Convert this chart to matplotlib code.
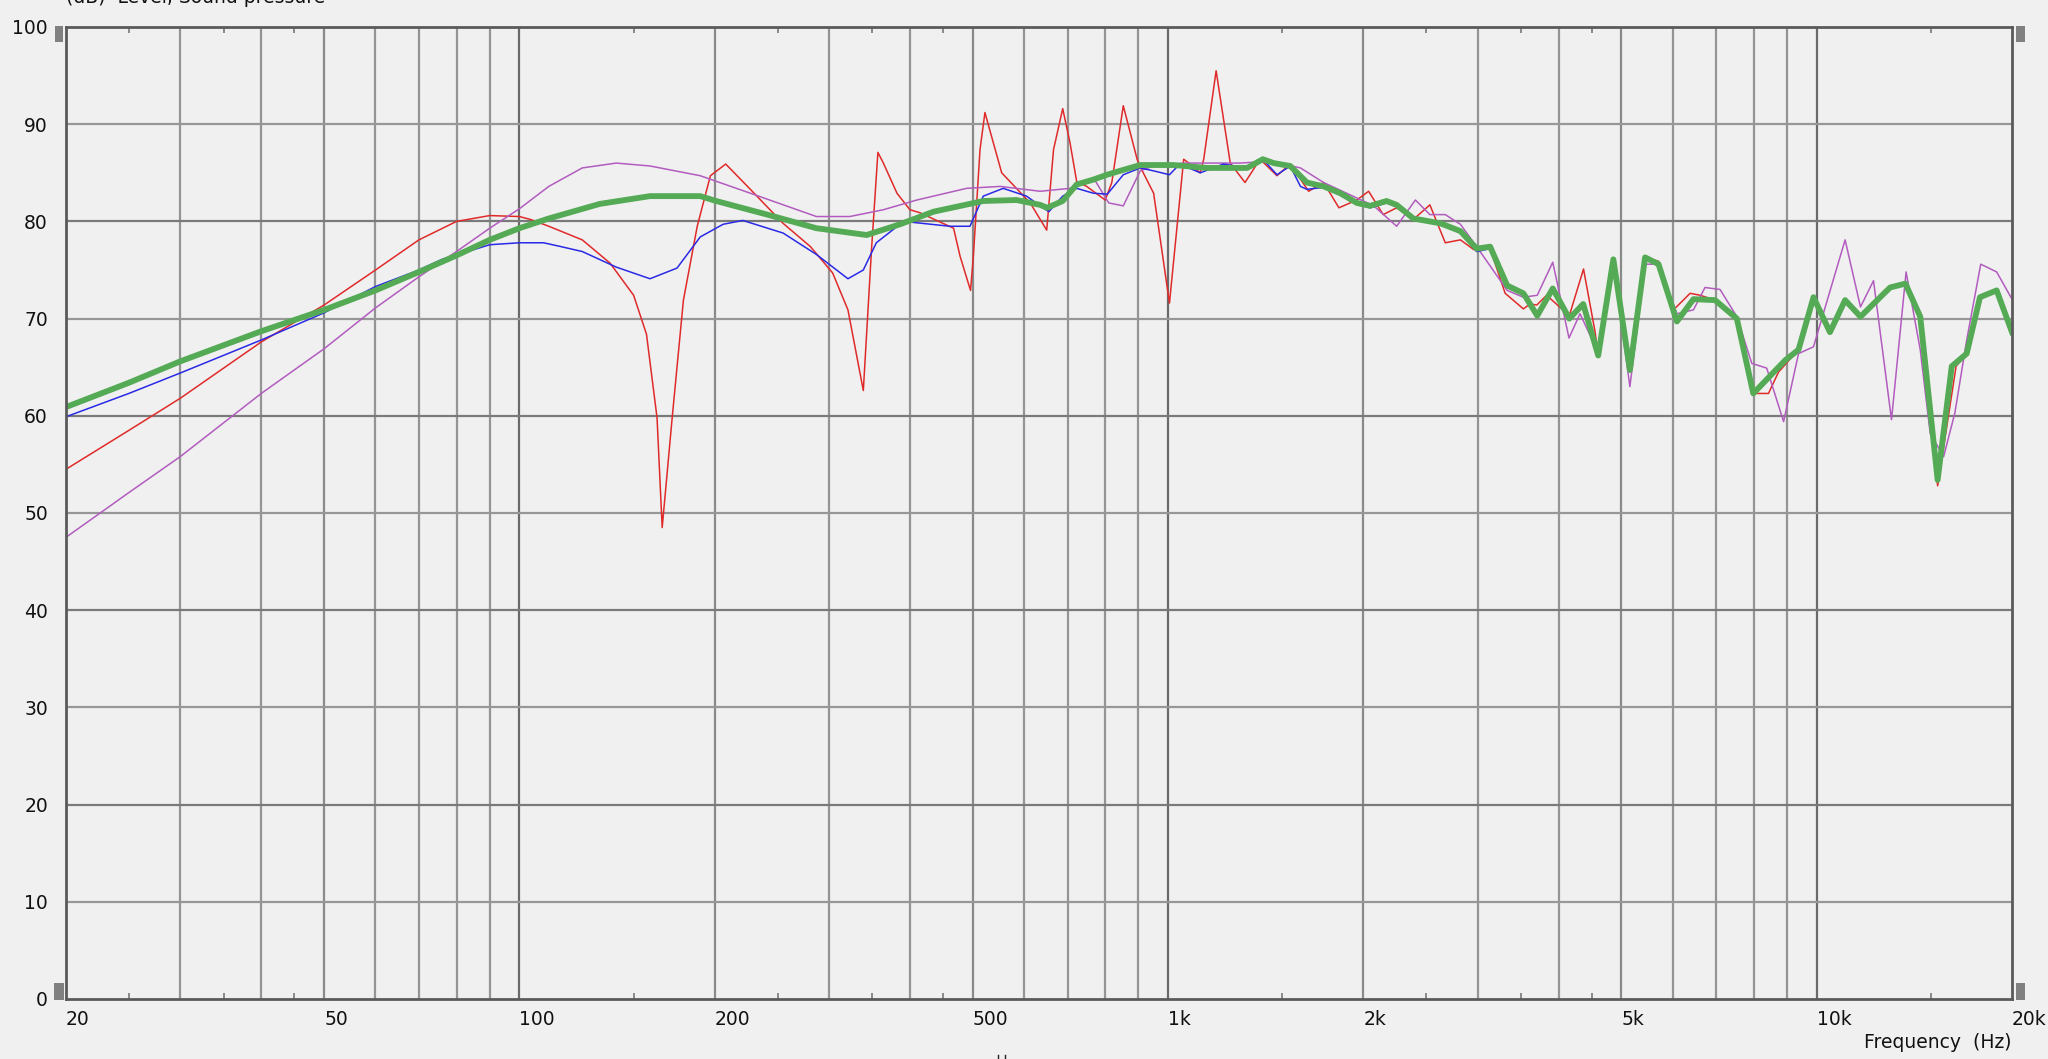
import numpy as np
import matplotlib
matplotlib.use("Agg")
import matplotlib.pyplot as plt
from matplotlib.patches import Rectangle
from matplotlib.lines import Line2D

#%% data (Hz, dB)
f_red = [20, 25, 30, 40, 50, 60, 70, 80, 90, 100, 104, 111, 125, 138, 150, 157, 163, 166, 172, 179,
         188, 197, 208, 227, 255, 281, 304, 321, 339, 349, 357, 364, 382, 400, 414, 467, 478, 496,
         501, 513, 522, 554, 613, 650, 666, 688, 706, 723, 749, 800, 819, 853, 896, 911, 950, 1005,
         1057, 1076, 1121, 1135, 1186, 1247, 1314, 1386, 1472, 1543, 1647, 1737, 1834, 1954, 2038,
         2146, 2251, 2388, 2533, 2675, 2823, 2960, 3137, 3309, 3530, 3614, 3702, 3834, 4155, 4370,
         4554, 4604, 4858, 5152, 5437, 5703, 6014, 6380, 6614, 6971, 7531, 7983, 8426, 8731, 9374,
         9886, 10481, 11060, 11680, 12974, 13700, 14440, 15360, 16400, 17030, 17850, 18940, 20000]
db_red = [54.5, 58.5, 61.8, 67.6, 71.4, 75.0, 78.1, 80.0, 80.6, 80.5, 80.2, 79.5, 78.1, 75.7, 72.4,
          68.4, 59.8, 48.5, 59.8, 71.9, 79.5, 84.7, 85.9, 83.3, 79.8, 77.4, 74.7, 70.9, 62.6, 77.1,
          87.1, 86.0, 82.9, 81.2, 80.9, 79.3, 76.4, 72.9, 76.4, 87.4, 91.2, 85.0, 81.9, 79.1, 87.4,
          91.6, 88.1, 84.1, 83.6, 82.2, 84.0, 91.9, 86.4, 85.3, 82.9, 71.6, 86.4, 86.0, 85.0, 86.4,
          95.5, 86.0, 84.0, 86.4, 84.7, 85.9, 83.1, 84.0, 81.4, 82.2, 83.1, 80.7, 81.4, 80.2, 81.7,
          77.8, 78.1, 77.1, 77.2, 72.6, 71.0, 71.5, 71.4, 72.4, 70.3, 75.1, 68.6, 66.2, 76.1, 64.7,
          76.3, 75.9, 70.9, 72.6, 72.4, 71.9, 70.0, 62.3, 62.3, 64.5, 66.8, 72.2, 68.6, 71.9, 70.2,
          73.2, 73.6, 70.2, 52.8, 65.1, 66.4, 72.2, 72.9, 68.6]

f_blue = [20, 25, 30, 40, 50, 60, 70, 76, 90, 100, 109, 116, 125, 141, 159, 175, 190, 206, 221, 255,
          287, 321, 339, 355, 391, 461, 495, 519, 557, 605, 635, 655, 688, 723, 767, 806, 853, 906,
          950, 1005, 1042, 1121, 1217, 1324, 1400, 1472, 1543, 1600, 1637, 1737, 1843, 1954, 2048,
          2172, 2251, 2388, 2630, 2823, 2991, 3137, 3333, 3530]
db_blue = [59.9, 62.3, 64.4, 67.8, 70.6, 73.3, 75.0, 76.1, 77.6, 77.8, 77.8, 77.4, 76.9, 75.3, 74.1,
           75.2, 78.4, 79.7, 80.1, 78.8, 76.6, 74.1, 75.0, 77.8, 80.0, 79.5, 79.5, 82.6, 83.4, 82.6,
           81.6, 81.0, 82.6, 83.4, 82.9, 82.8, 84.8, 85.5, 85.2, 84.8, 85.9, 85.0, 85.9, 85.5, 86.4,
           84.8, 85.7, 83.6, 83.3, 83.5, 82.7, 81.8, 81.4, 81.9, 81.5, 80.3, 79.8, 78.8, 76.9, 77.2,
           73.2, 72.5]

f_purple = [20, 25, 30, 40, 50, 60, 70, 80, 90, 100, 111, 125, 141, 159, 190, 227, 287, 323, 364,
            410, 489, 551, 635, 706, 767, 810, 853, 906, 950, 1057, 1292, 1437, 1600, 1737, 2075,
            2251, 2406, 2533, 2675, 2823, 2991, 3333, 3530, 3708, 3918, 4150, 4316, 4604, 4858,
            5152, 5437, 5703, 6087, 6456, 6726, 7094, 7531, 7940, 8374, 8890, 9374, 9886, 11060,
            11680, 12233, 13040, 13733, 14440, 14960, 15690, 16330, 17030, 17900, 18940, 20000]
db_purple = [47.5, 52.1, 55.8, 62.3, 66.9, 71.1, 74.3, 76.9, 79.3, 81.3, 83.6, 85.5, 86.0, 85.7,
             84.7, 82.9, 80.5, 80.5, 81.2, 82.2, 83.4, 83.6, 83.1, 83.4, 84.5, 81.9, 81.6, 85.2,
             85.7, 86.0, 86.0, 86.2, 85.5, 84.0, 81.6, 79.5, 82.2, 80.7, 80.7, 79.7, 77.4, 72.9,
             72.2, 72.4, 75.8, 68.0, 70.5, 66.5, 75.6, 63.0, 75.6, 75.6, 70.5, 70.9, 73.2, 73.0,
             70.2, 65.4, 64.9, 59.4, 66.4, 67.1, 78.1, 71.2, 73.9, 59.6, 74.8, 66.8, 58.2, 55.8,
             60.3, 67.8, 75.6, 74.8, 72.0]

f_green = [20, 25, 30, 40, 50, 60, 70, 80, 90, 100, 111, 133, 159, 190, 201, 241, 287, 343, 386,
           435, 519, 584, 635, 651, 688, 723, 767, 805, 853, 906, 1019, 1148, 1324, 1400, 1455,
           1543, 1637, 1737, 1843, 1954, 2048, 2172, 2251, 2388, 2630, 2823, 2991, 3137, 3333,
           3530, 3614, 3708, 3918, 4155, 4365, 4604, 4858, 5152, 5437, 5703, 6087, 6456, 6971,
           7531, 7983, 8937, 9374, 9886, 10481, 11060, 11680, 12974, 13700, 14440, 15360, 16150,
           17030, 17850, 18940, 20000]
db_green = [60.9, 63.4, 65.6, 68.7, 70.9, 72.9, 74.8, 76.5, 78.1, 79.3, 80.3, 81.8, 82.6, 82.6,
            82.1, 80.7, 79.3, 78.6, 79.7, 81.0, 82.1, 82.2, 81.7, 81.4, 82.1, 83.8, 84.3, 84.8,
            85.3, 85.8, 85.8, 85.5, 85.5, 86.4, 86.0, 85.7, 84.0, 83.6, 82.9, 81.9, 81.6, 82.1,
            81.7, 80.3, 79.8, 79.0, 77.2, 77.4, 73.4, 72.6, 71.5, 70.3, 73.1, 70.0, 71.5, 66.2,
            76.1, 64.7, 76.3, 75.6, 69.7, 72.0, 71.9, 70.0, 62.3, 65.7, 66.8, 72.2, 68.6, 71.9,
            70.2, 73.2, 73.6, 70.2, 53.4, 65.1, 66.4, 72.2, 72.9, 68.6]

x_labels = ["20", "50", "100", "200", "500", "1k", "2k", "5k", "10k", "20k"]
x_label_pos = [20, 50, 100, 200, 500, 1000, 2000, 5000, 10000, 20000]
minor_ticks = [25, 35, 45, 150, 250, 350, 450, 1500, 2500, 3500, 4500, 15000]

#%% figure
W, H = 2048, 1059
bg = "#f0f0f0"
fig = plt.figure(figsize=(W / 100, H / 100), dpi=100, facecolor=bg)
ax = fig.add_axes([66 / W, 1 - 999 / H, (2012 - 66) / W, (999 - 27) / H])
ax.set_facecolor(bg)
ax.set_xscale("log")
ax.set_xlim(20, 20000)
ax.set_ylim(0, 100)

# grid lines
for dec in [10, 100, 1000, 10000]:
    for m in range(1, 10):
        f = dec * m
        if f <= 20 or f >= 20000:
            continue
        if m == 1:
            c = "#6a6a6a"
        elif m in (2, 5):
            c = "#8a8a8a"
        else:
            c = "#949494"
        ax.axvline(f, color=c, lw=1.6, zorder=1)
for v in range(10, 100, 10):
    c = "#7a7a7a" if v % 20 == 0 else "#979797"
    ax.axhline(v, color=c, lw=1.6, zorder=1)

# curves
ax.plot(f_red, db_red, color="#e02a2a", lw=1.1, zorder=3)
ax.plot(f_purple, db_purple, color="#b25cbf", lw=1.1, zorder=3)
ax.plot(f_blue, db_blue, color="#2a2ae6", lw=1.1, zorder=4)
ax.plot(f_green, db_green, color="#55aa55", lw=4.2, zorder=5, solid_joinstyle="round")

# ticks
ax.set_xticks(x_label_pos)
ax.set_xticklabels(x_labels)
ax.set_xticks(minor_ticks, minor=True)
ax.set_xticklabels([""] * len(minor_ticks), minor=True)
ax.set_yticks(range(0, 101, 10))
ax.tick_params(which="major", length=0, labelsize=13.5, labelcolor="#111111")
ax.tick_params(axis="x", which="major", pad=8)
ax.tick_params(axis="y", which="major", pad=13)
ax.tick_params(which="minor", direction="in", length=4.5, width=1.4, color="#8a8a8a",
               top=True, bottom=True)
for lab in ax.get_xticklabels():
    lab.set_ha("left")

for s in ax.spines.values():
    s.set_color("#5a5a5a")
    s.set_linewidth(2)
    s.set_zorder(6)

# axis titles
fig.text(1 - 37 / W, 1 - 1043 / H, "Frequency  (Hz)", ha="right", va="center",
         fontsize=13.5, color="#111111")
fig.text(66 / W, 1 - 3 / H, "(dB)  Level, Sound pressure", ha="left", va="baseline",
         fontsize=13.5, color="#111111")

# scroll handles at the axis corners
for x0, y0, w, h in [(55, 26, 8, 16), (54, 983, 10, 17), (2016, 26, 9, 16), (2016, 983, 9, 17)]:
    fig.add_artist(Rectangle((x0 / W, 1 - (y0 + h) / H), w / W, h / H,
                             transform=fig.transFigure, color="#808080", lw=0))
for xm in [998, 1005]:
    fig.add_artist(Line2D([xm / W, xm / W], [0, 4 / H], transform=fig.transFigure,
                          color="#222222", lw=1))

fig.savefig("out.png", dpi=100, facecolor=bg)
